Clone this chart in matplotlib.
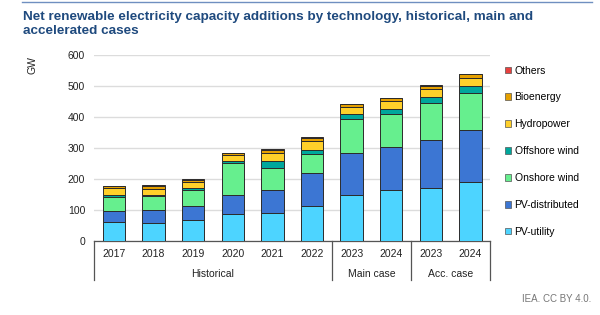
import matplotlib.pyplot as plt
from matplotlib.patches import Patch
from matplotlib.lines import Line2D
import numpy as np

plt.rcParams['font.family'] = ['Liberation Sans', 'DejaVu Sans']

# Bars, left to right
years = ['2017', '2018', '2019', '2020', '2021', '2022', '2023', '2024', '2023', '2024']
groups = ['Historical', 'Main case', 'Acc. case']
group_sizes = [6, 2, 2]

# GW per technology
pv_utility = [62, 57, 68, 86, 89, 113, 150, 166, 170, 190]
pv_distributed = [36, 42, 45, 62, 74, 105, 135, 139, 155, 168]
onshore_wind = [45, 46, 51, 104, 74, 63, 109, 106, 121, 121]
offshore_wind = [5, 5, 7, 6, 21, 12, 17, 16, 20, 21]
hydropower = [22, 18, 19, 19, 26, 30, 22, 25, 26, 27]
bioenergy = [6, 10, 8, 6, 10, 10, 8, 8, 8, 11]
others = [1, 2, 2, 2, 3, 3, 2, 2, 2, 2]

series = [
    ('PV-utility', pv_utility, '#4DD4FF'),
    ('PV-distributed', pv_distributed, '#3C76D3'),
    ('Onshore wind', onshore_wind, '#66EF8E'),
    ('Offshore wind', offshore_wind, '#00A79C'),
    ('Hydropower', hydropower, '#FFD02A'),
    ('Bioenergy', bioenergy, '#E5A000'),
    ('Others', others, '#E8403E'),
]

fig = plt.figure(figsize=(6, 3.15), dpi=100)
ax = fig.add_axes([0.157, 0.235, 0.66, 0.59])

x = np.arange(len(years))
bottom = np.zeros(len(years))
for name, vals, col in series:
    ax.bar(x, vals, 0.57, bottom=bottom, color=col, edgecolor='#2b2b2b',
           linewidth=0.7, zorder=3)
    bottom += np.array(vals)

ax.set_xlim(-0.5, len(years) - 0.5)
ax.set_ylim(0, 600)
ax.set_yticks(range(0, 601, 100))
ax.yaxis.grid(True, color='#dcdcdc', linewidth=1.0, zorder=0)
ax.tick_params(axis='y', length=0, labelsize=7.5, pad=6.5, colors='#222222')
ax.set_xticks([])
for s in ['top', 'right', 'left']:
    ax.spines[s].set_visible(False)
ax.spines['bottom'].set_color('#555555')
ax.spines['bottom'].set_linewidth(0.9)

ax.text(-0.155, 0.945, 'GW', transform=ax.transAxes, rotation=90,
        ha='center', va='center', fontsize=7.5, color='#222222')

# year labels and group labels under the axis
for i, y in enumerate(years):
    ax.annotate(y, (i, 0), xytext=(0, -9.5), textcoords='offset points',
                xycoords='data', ha='center', va='center', fontsize=7.5,
                color='#222222', annotation_clip=False)
start = -0.5
bounds = [start]
for g, n in zip(groups, group_sizes):
    mid = start + n / 2
    ax.annotate(g, (mid, 0), xytext=(0, -24), textcoords='offset points',
                ha='center', va='center', fontsize=7.5, color='#222222',
                annotation_clip=False)
    start += n
    bounds.append(start)
trans = ax.get_xaxis_transform()
for b in bounds:
    ax.add_line(Line2D([b, b], [0, -0.21], transform=trans, color='#555555',
                       linewidth=0.9, clip_on=False))

handles = [Patch(facecolor=c, edgecolor='#555555', linewidth=0.5, label=n)
           for n, v, c in series][::-1]
fig.legend(handles=handles, loc='upper left', bbox_to_anchor=(0.835, 0.805),
           frameon=False, fontsize=7.5, handlelength=0.6, handleheight=0.6,
           handletextpad=0.3, labelspacing=1.62, borderaxespad=0)

fig.text(0.038, 0.924, 'Net renewable electricity capacity additions by technology, historical, main and\naccelerated cases',
         ha='left', va='center', fontsize=9.7, fontweight='bold', color='#1F4A7E',
         linespacing=1.25)
fig.add_artist(Line2D([0.037, 0.987], [0.993, 0.993], color='#6f8fc0', linewidth=1.0))
fig.text(0.985, 0.05, 'IEA. CC BY 4.0.', ha='right', va='center', fontsize=7,
         color='#777777')

fig.savefig('out.png', dpi=100)
